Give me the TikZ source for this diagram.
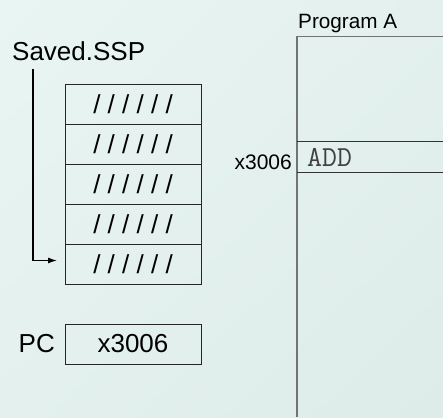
\documentclass[tikz,border=0pt]{standalone}
\usepackage{fontspec}
\setmainfont{Liberation Sans}
\usepackage{xcolor}
\usetikzlibrary{arrows,arrows.meta,positioning,calc,shadings}

\definecolor{bgA}{RGB}{233,245,243}
\definecolor{bgM}{RGB}{227,240,238}
\definecolor{bgB}{RGB}{221,236,233}
\definecolor{memgray}{RGB}{112,116,116}

\begin{document}
\begin{tikzpicture}[
  x=1pt, y=1pt,
  font=\fontsize{26}{30}\selectfont,
  cell/.style={draw=black!85, line width=0.8pt, minimum width=136pt, minimum height=40pt, inner sep=0pt, outer sep=0pt},
  label/.style={inner sep=0pt},
  arrow/.style={->,>={Latex[length=9pt,width=6pt]}, line width=1.2pt},
]

% background
\shade[upper left=bgA, upper right=bgM, lower left=bgM, lower right=bgB] (0,0) rectangle (443,417);
\useasboundingbox (0,0) rectangle (443,417);

% stack
\node[cell] (c1) at (133,313) {/ / / / / /};
\node[cell, below=0pt of c1] (c2) {/ / / / / /};
\node[cell, below=0pt of c2] (c3) {/ / / / / /};
\node[cell, below=0pt of c3] (c4) {/ / / / / /};
\node[cell, below=0pt of c4] (c5) {/ / / / / /};

\node[label, anchor=base west] (ssp) at (12,356) {Saved.SSP};
\coordinate (sspfoot) at (33,348);
\draw[arrow] (sspfoot) |- ([xshift=-8pt,yshift=3.5pt]c5.west);

% PC register
\node[cell] (pc) at (133,73) {x3006};
\node[label, left=10pt of pc] (pclabel) {PC};

% memory of program A
\draw[memgray, line width=1.5pt] (297,0) -- (297,381);
\draw[memgray, line width=0.9pt] (297,381) -- (443,381);
\draw[black!80, line width=0.8pt] (297,276) -- (443,276);
\draw[black!80, line width=0.8pt] (297,245) -- (443,245);
\node[label, anchor=base west, font=\fontsize{20.7}{24}\selectfont] (prog) at (298,388) {Program A};
\node[label, anchor=base west, font=\ttfamily\fontsize{29}{32}\selectfont, text=black!75] (add) at (307,250) {ADD};
\node[label, anchor=base east, font=\fontsize{21}{24}\selectfont] (addr) at (292,247) {x3006};

\end{tikzpicture}
\end{document}
